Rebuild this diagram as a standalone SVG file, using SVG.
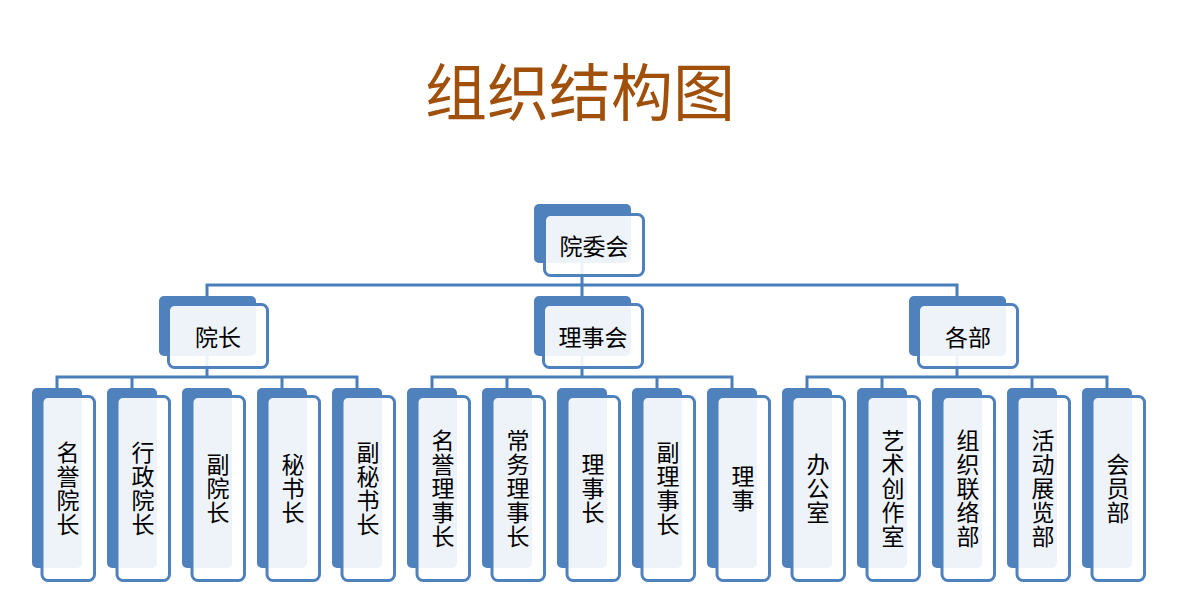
<svg xmlns="http://www.w3.org/2000/svg" width="1192" height="616" viewBox="0 0 1192 616">
<style>
.bg{fill:#ffffff}
.back{fill:#4F81BD}
.front{fill:#ffffff;fill-opacity:0.9;stroke:#4F81BD;stroke-width:3}
.lbl{font-family:"Noto Sans CJK SC","Noto Sans CJK JP",sans-serif;font-size:23px;fill:#000000;text-anchor:middle;dominant-baseline:central}
.vl{font-family:"Noto Sans CJK SC","Noto Sans CJK JP",sans-serif;font-size:23px;fill:#000000;text-anchor:middle;writing-mode:vertical-rl;text-orientation:upright;letter-spacing:1px}
.title{font-family:"Noto Sans CJK SC","Noto Sans CJK JP",sans-serif;font-size:62px;fill:#A0500A;text-anchor:middle;dominant-baseline:central}
.conn{fill:none;stroke:#4A7EBB;stroke-width:3}
</style>
<rect class="bg" x="0" y="0" width="1192" height="616"/>
<text id="title" class="title" x="580" y="89">组织结构图</text>
<g id="connectors">
<path class="conn" d="M582 263V285M207 296V285H957V296M582 285V296"/>
<path class="conn" d="M207 356V377M57 388V377H357V388M132 377V388M282 377V388"/>
<path class="conn" d="M582 356V377M432 388V377H732V388M507 377V388M657 377V388"/>
<path class="conn" d="M957 356V377M807 388V377H1107V388M882 377V388M1032 377V388"/>
</g>
<g id="n-top">
<rect class="back" x="534" y="204" width="97" height="59" rx="5"/>
<rect class="front" x="544.5" y="214.5" width="99" height="61" rx="6"/>
<text class="lbl" x="594" y="245">院委会</text>
</g>
<g id="n-yuanzhang">
<rect class="back" x="159" y="296" width="97" height="60" rx="5"/>
<rect class="front" x="168.5" y="304.5" width="99" height="63" rx="6"/>
<text class="lbl" x="218" y="336">院长</text>
</g>
<g id="n-lishihui">
<rect class="back" x="534" y="296" width="97" height="60" rx="5"/>
<rect class="front" x="543.5" y="304.5" width="99" height="63" rx="6"/>
<text class="lbl" x="593" y="336">理事会</text>
</g>
<g id="n-gebu">
<rect class="back" x="909" y="296" width="97" height="60" rx="5"/>
<rect class="front" x="918.5" y="304.5" width="99" height="63" rx="6"/>
<text class="lbl" x="968" y="336">各部</text>
</g>
<g id="l1">
<rect class="back" x="32" y="388" width="50" height="180" rx="5"/>
<rect class="front" x="42" y="396.5" width="52.5" height="184" rx="6"/>
<text class="vl" x="68" y="488.5">名誉院长</text>
</g>
<g id="l2">
<rect class="back" x="107" y="388" width="50" height="180" rx="5"/>
<rect class="front" x="117" y="396.5" width="52.5" height="184" rx="6"/>
<text class="vl" x="143" y="488.5">行政院长</text>
</g>
<g id="l3">
<rect class="back" x="182" y="388" width="50" height="180" rx="5"/>
<rect class="front" x="192" y="396.5" width="52.5" height="184" rx="6"/>
<text class="vl" x="218" y="488.5">副院长</text>
</g>
<g id="l4">
<rect class="back" x="257" y="388" width="50" height="180" rx="5"/>
<rect class="front" x="267" y="396.5" width="52.5" height="184" rx="6"/>
<text class="vl" x="293" y="488.5">秘书长</text>
</g>
<g id="l5">
<rect class="back" x="332" y="388" width="50" height="180" rx="5"/>
<rect class="front" x="342" y="396.5" width="52.5" height="184" rx="6"/>
<text class="vl" x="368" y="488.5">副秘书长</text>
</g>
<g id="l6">
<rect class="back" x="407" y="388" width="50" height="180" rx="5"/>
<rect class="front" x="417" y="396.5" width="52.5" height="184" rx="6"/>
<text class="vl" x="443" y="488.5">名誉理事长</text>
</g>
<g id="l7">
<rect class="back" x="482" y="388" width="50" height="180" rx="5"/>
<rect class="front" x="492" y="396.5" width="52.5" height="184" rx="6"/>
<text class="vl" x="518" y="488.5">常务理事长</text>
</g>
<g id="l8">
<rect class="back" x="557" y="388" width="50" height="180" rx="5"/>
<rect class="front" x="567" y="396.5" width="52.5" height="184" rx="6"/>
<text class="vl" x="593" y="488.5">理事长</text>
</g>
<g id="l9">
<rect class="back" x="632" y="388" width="50" height="180" rx="5"/>
<rect class="front" x="642" y="396.5" width="52.5" height="184" rx="6"/>
<text class="vl" x="668" y="488.5">副理事长</text>
</g>
<g id="l10">
<rect class="back" x="707" y="388" width="50" height="180" rx="5"/>
<rect class="front" x="717" y="396.5" width="52.5" height="184" rx="6"/>
<text class="vl" x="743" y="488.5">理事</text>
</g>
<g id="l11">
<rect class="back" x="782" y="388" width="50" height="180" rx="5"/>
<rect class="front" x="792" y="396.5" width="52.5" height="184" rx="6"/>
<text class="vl" x="818" y="488.5">办公室</text>
</g>
<g id="l12">
<rect class="back" x="857" y="388" width="50" height="180" rx="5"/>
<rect class="front" x="867" y="396.5" width="52.5" height="184" rx="6"/>
<text class="vl" x="893" y="488.5">艺术创作室</text>
</g>
<g id="l13">
<rect class="back" x="932" y="388" width="50" height="180" rx="5"/>
<rect class="front" x="942" y="396.5" width="52.5" height="184" rx="6"/>
<text class="vl" x="968" y="488.5">组织联络部</text>
</g>
<g id="l14">
<rect class="back" x="1007" y="388" width="50" height="180" rx="5"/>
<rect class="front" x="1017" y="396.5" width="52.5" height="184" rx="6"/>
<text class="vl" x="1043" y="488.5">活动展览部</text>
</g>
<g id="l15">
<rect class="back" x="1082" y="388" width="50" height="180" rx="5"/>
<rect class="front" x="1092" y="396.5" width="52.5" height="184" rx="6"/>
<text class="vl" x="1118" y="488.5">会员部</text>
</g>
</svg>
